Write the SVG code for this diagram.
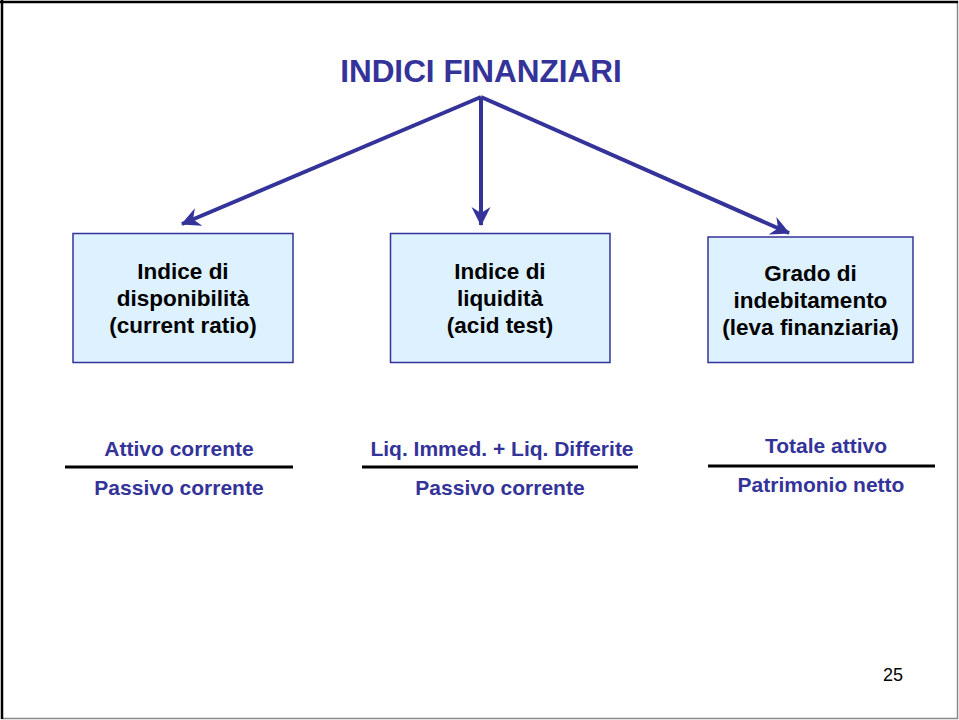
<svg xmlns="http://www.w3.org/2000/svg" width="959" height="720" viewBox="0 0 959 720">
<style>
.title{font-family:"Liberation Sans",Arial,sans-serif;font-weight:bold;font-size:31.5px;fill:#333399;text-anchor:middle}
.box{fill:#DDF1FF;stroke:#333399;stroke-width:1.5}
.bt{font-family:"Liberation Sans",Arial,sans-serif;font-weight:bold;font-size:22.5px;fill:#000;text-anchor:middle}
.ft{font-family:"Liberation Sans",Arial,sans-serif;font-weight:bold;font-size:21px;fill:#333399;text-anchor:middle}
.conn{stroke:#333399;stroke-width:4;fill:none}
.rule{stroke:#000;stroke-width:3}
.pn{font-family:"Liberation Sans",Arial,sans-serif;font-size:18px;fill:#000;text-anchor:middle}
</style>
<defs>
<marker id="arr" viewBox="-20 -10 22 20" refX="0" refY="0" markerWidth="22" markerHeight="20" markerUnits="userSpaceOnUse" orient="auto">
<path d="M1,0 L-18,-9.5 L-12,0 L-18,9.5 Z" fill="#333399"/>
</marker>
</defs>
<rect x="0" y="0" width="959" height="720" fill="#fff"/>
<line x1="957.5" y1="1" x2="957.5" y2="719" stroke="#888" stroke-width="1.5"/>
<line x1="1" y1="718.5" x2="958" y2="718.5" stroke="#888" stroke-width="1.5"/>
<line x1="0" y1="2" x2="958" y2="2" stroke="#000" stroke-width="2.5"/>
<line x1="2" y1="0" x2="2" y2="719" stroke="#000" stroke-width="2.5"/>

<g id="title"><text class="title" x="481" y="82">INDICI FINANZIARI</text></g>

<g id="connectors">
<line class="conn" x1="481" y1="97" x2="182" y2="224" marker-end="url(#arr)"/>
<line class="conn" x1="481" y1="97" x2="481" y2="225" marker-end="url(#arr)"/>
<line class="conn" x1="481" y1="97" x2="789" y2="233" marker-end="url(#arr)"/>
</g>

<g id="box1">
<rect class="box" x="73" y="233.5" width="220" height="129"/>
<text class="bt" x="183" y="279">Indice di</text>
<text class="bt" x="183" y="306">disponibilità</text>
<text class="bt" x="183" y="333">(current ratio)</text>
</g>
<g id="box2">
<rect class="box" x="390.5" y="233.5" width="219.5" height="129"/>
<text class="bt" x="500" y="279">Indice di</text>
<text class="bt" x="500" y="306">liquidità</text>
<text class="bt" x="500" y="333">(acid test)</text>
</g>
<g id="box3">
<rect class="box" x="708" y="237" width="205" height="125.5"/>
<text class="bt" x="810.5" y="281">Grado di</text>
<text class="bt" x="810.5" y="308">indebitamento</text>
<text class="bt" x="810.5" y="335">(leva finanziaria)</text>
</g>

<g id="ratio1">
<text class="ft" x="179" y="456">Attivo corrente</text>
<line class="rule" x1="65" y1="467" x2="293" y2="467"/>
<text class="ft" x="179" y="495">Passivo corrente</text>
</g>
<g id="ratio2">
<text class="ft" x="502" y="456">Liq. Immed. + Liq. Differite</text>
<line class="rule" x1="362" y1="467" x2="638" y2="467"/>
<text class="ft" x="500" y="495">Passivo corrente</text>
</g>
<g id="ratio3">
<text class="ft" x="826" y="453">Totale attivo</text>
<line class="rule" x1="708" y1="466" x2="935" y2="466"/>
<text class="ft" x="821" y="492">Patrimonio netto</text>
</g>

<text class="pn" x="893" y="681">25</text>
</svg>
